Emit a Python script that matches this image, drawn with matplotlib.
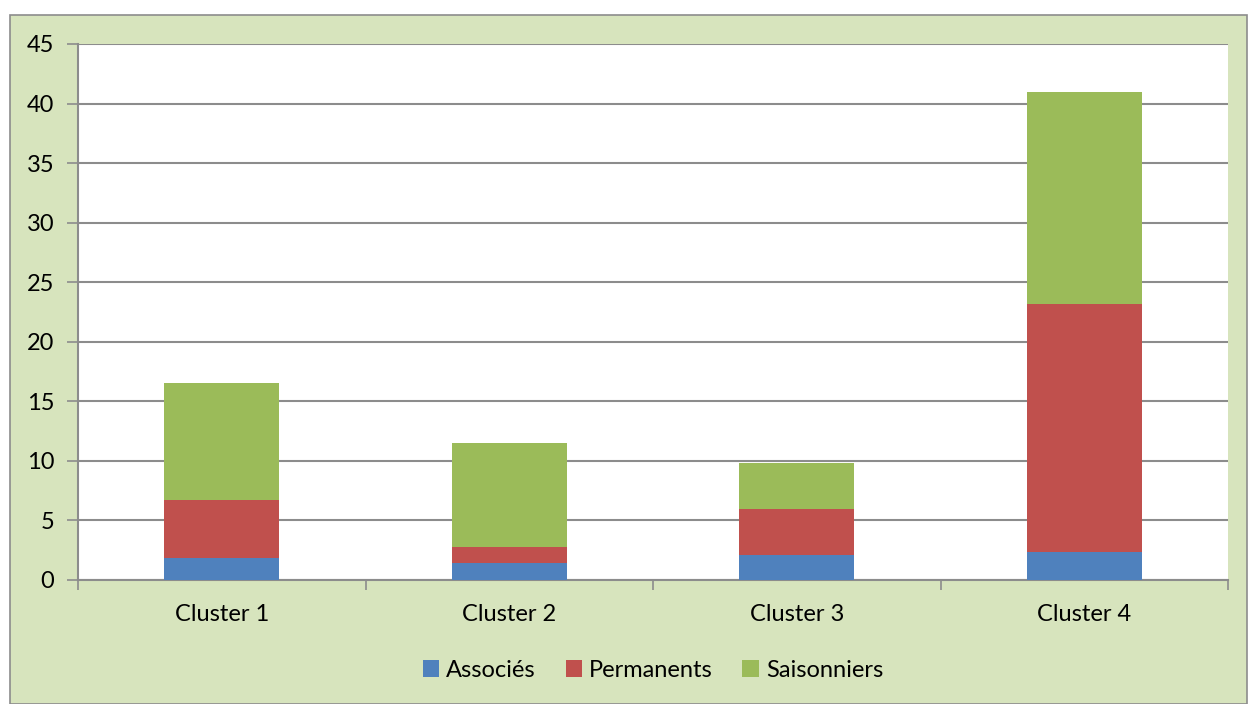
import numpy as np
import matplotlib.pyplot as plt
from matplotlib.patches import Rectangle

# données
clusters = ['Cluster 1', 'Cluster 2', 'Cluster 3', 'Cluster 4']
associes = [1.87, 1.39, 2.14, 2.37]
permanents = [4.87, 1.37, 3.84, 20.81]
saisonniers = [9.80, 8.74, 3.84, 17.76]
yticks = [0, 5, 10, 15, 20, 25, 30, 35, 40, 45]

W, H = 1248, 704
plt.rcParams['font.family'] = ['Lato', 'DejaVu Sans']

fig = plt.figure(figsize=(W / 100, H / 100), dpi=100)
fig.patch.set_facecolor('white')

# cadre extérieur vert clair
fig.patches.append(Rectangle((10 / W, 0), (W - 11) / W, (H - 15) / H,
                             transform=fig.transFigure, facecolor='#D7E4BD',
                             edgecolor='#8C8C8C', linewidth=1.2, zorder=-10))

ax = fig.add_axes([78 / W, (H - 580) / H, (1228 - 78) / W, (580 - 44) / H])
ax.set_zorder(1)
ax.set_facecolor('white')

x = np.arange(len(clusters))
bottom2 = np.array(associes)
bottom3 = bottom2 + np.array(permanents)
w = 0.4
ax.bar(x, associes, w, color='#4F81BD', label='Associés', zorder=3)
ax.bar(x, permanents, w, bottom=bottom2, color='#C0504D', label='Permanents', zorder=3)
ax.bar(x, saisonniers, w, bottom=bottom3, color='#9BBB59', label='Saisonniers', zorder=3)

ax.set_xlim(-0.5, len(clusters) - 0.5)
ax.set_ylim(0, 45)
ax.set_yticks(yticks)
ax.set_yticklabels([str(v) for v in yticks], fontsize=17)
ax.yaxis.grid(True, color='#8C8C8C', linewidth=1.5, zorder=1)
ax.set_axisbelow(True)

ax.set_xticks(x)
ax.set_xticklabels(clusters, fontsize=17)
ax.tick_params(axis='x', length=0, pad=17)
ax.set_xticks(np.arange(-0.5, len(clusters)), minor=True)
ax.tick_params(axis='x', which='minor', length=7, color='#8C8C8C', width=1.2)
ax.tick_params(axis='y', length=8, color='#8C8C8C', width=1.2, pad=9)

for side in ['top', 'right']:
    ax.spines[side].set_visible(False)
for side in ['left', 'bottom']:
    ax.spines[side].set_color('#8C8C8C')
    ax.spines[side].set_linewidth(1.5)

ax.legend(loc='center', bbox_to_anchor=(0.5, -0.168), ncol=3, frameon=False,
          fontsize=17, handlelength=0.7, handleheight=0.7, handletextpad=0.3,
          columnspacing=1.25)

fig.savefig('out.png', dpi=100)
